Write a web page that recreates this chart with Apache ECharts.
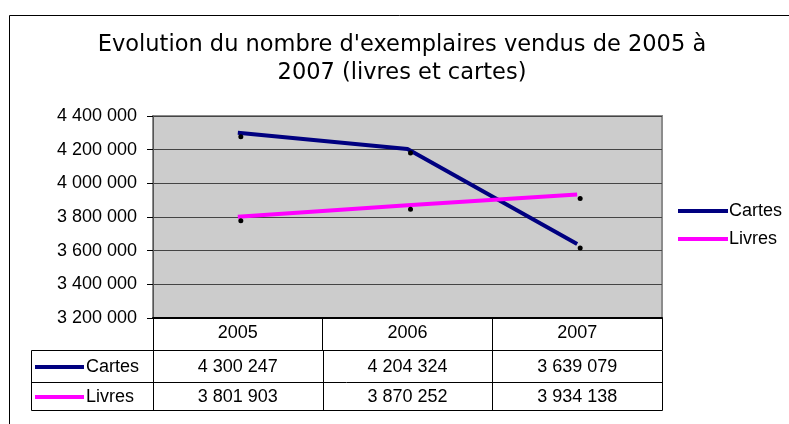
<!DOCTYPE html>
<html>
<head>
<meta charset="utf-8">
<script src="https://cdn.jsdelivr.net/npm/echarts@6/dist/echarts.min.js"></script>
<style>
  html, body { margin: 0; padding: 0; background: #fff; }
  #chart { width: 789px; height: 424px; }
</style>
</head>
<body>
<div id="chart"></div>
<script>
var years = ["2005", "2006", "2007"];
var cartes = [4300247, 4204324, 3639079];
var livres = [3801903, 3870252, 3934138];
var seriesNames = ["Cartes", "Livres"];
var seriesColors = ["#000080", "#ff00ff"];

var FONT = "Liberation Sans, Arial, sans-serif";
var TITLE_FONT = "DejaVu Sans, Verdana, sans-serif";

function fmt(n) {
  return String(n).replace(/\B(?=(\d{3})+(?!\d))/g, " ");
}

var chart = echarts.init(document.getElementById("chart"));

var option = {
  animation: false,
  textStyle: { fontFamily: FONT, color: "#000" },
  title: {
    text: "Evolution du nombre d'exemplaires vendus de 2005 à\n2007 (livres et cartes)",
    left: 402,
    textAlign: "center",
    top: 31,
    padding: 0,
    textStyle: { fontFamily: TITLE_FONT, fontSize: 22.5, fontWeight: "normal", lineHeight: 28, color: "#000" }
  },
  legend: {
    orient: "vertical",
    left: 678,
    top: 202,
    padding: 0,
    itemWidth: 50,
    itemHeight: 4,
    itemGap: 10,
    textStyle: { fontFamily: FONT, fontSize: 18, color: "#000", padding: [0, 0, 0, -4] },
    data: seriesNames.map(function (n, i) {
      return { name: n, icon: "rect", itemStyle: { color: seriesColors[i] } };
    })
  },
  grid: {
    left: 153, top: 116, right: 127, bottom: 106,
    show: true, backgroundColor: "#cccccc", borderColor: "#8c8c8c", borderWidth: 2
  },
  xAxis: {
    type: "category",
    data: years,
    boundaryGap: true,
    axisLine: { lineStyle: { color: "#000", width: 2 } },
    axisTick: { show: true, length: 32, interval: 0, lineStyle: { color: "#000", width: 1 } },
    axisLabel: { fontFamily: FONT, fontSize: 18, color: "#000", margin: 6 },
    splitLine: { show: false }
  },
  yAxis: {
    type: "value",
    min: 3200000,
    max: 4400000,
    interval: 200000,
    axisLine: { show: true, lineStyle: { color: "#555", width: 1 } },
    axisTick: { show: true, length: 6, lineStyle: { color: "#000" } },
    axisLabel: { fontFamily: FONT, fontSize: 18, color: "#000", margin: 16, formatter: fmt },
    splitLine: { lineStyle: { color: "#444", width: 1 } }
  },
  series: [
    {
      name: seriesNames[0], type: "line", data: cartes,
      symbol: "circle", symbolSize: 5, symbolOffset: [3, 4],
      itemStyle: { color: "#000" },
      lineStyle: { color: seriesColors[0], width: 4 }
    },
    {
      name: seriesNames[1], type: "line", data: livres,
      symbol: "circle", symbolSize: 5, symbolOffset: [3, 4],
      itemStyle: { color: "#000" },
      lineStyle: { color: seriesColors[1], width: 4 }
    }
  ]
};
chart.setOption(option);

// data table under the x axis
var tableLeft = 31, plotLeft = 153, plotRight = 662;
var rowTops = [350, 382, 410];
var rows = [cartes, livres];
var g = [];
// outer chart frame
g.push({
  type: "rect", silent: true,
  shape: { x: 9.5, y: 15.5, width: 800, height: 420 },
  style: { fill: null, stroke: "#000", lineWidth: 1 }, z: -1
});
g.push({
  type: "rect", silent: true,
  shape: { x: tableLeft + 0.5, y: rowTops[0] + 0.5, width: plotRight - tableLeft, height: rowTops[2] - rowTops[0] },
  style: { fill: null, stroke: "#000", lineWidth: 1 }
});
g.push({
  type: "line", silent: true,
  shape: { x1: tableLeft, y1: rowTops[1] + 0.5, x2: plotRight, y2: rowTops[1] + 0.5 },
  style: { stroke: "#000", lineWidth: 1 }
});
var bounds = [plotLeft];
for (var i = 1; i < years.length; i++) {
  var a = chart.convertToPixel({ xAxisIndex: 0 }, i - 1);
  var b = chart.convertToPixel({ xAxisIndex: 0 }, i);
  bounds.push((a + b) / 2);
}
bounds.forEach(function (x) {
  g.push({
    type: "line", silent: true,
    shape: { x1: Math.round(x) + 0.5, y1: rowTops[0], x2: Math.round(x) + 0.5, y2: rowTops[2] },
    style: { stroke: "#000", lineWidth: 1 }
  });
});
rows.forEach(function (vals, r) {
  var cy = (rowTops[r] + rowTops[r + 1]) / 2 + 1;
  g.push({
    type: "line", silent: true,
    shape: { x1: 35, y1: cy, x2: 84, y2: cy },
    style: { stroke: seriesColors[r], lineWidth: 4 }
  });
  g.push({
    type: "text", silent: true, x: 86, y: cy,
    style: { text: seriesNames[r], font: "18px " + FONT, fill: "#000", textVerticalAlign: "middle" }
  });
  vals.forEach(function (v, c) {
    g.push({
      type: "text", silent: true,
      x: chart.convertToPixel({ xAxisIndex: 0 }, c), y: cy,
      style: { text: fmt(v), font: "18px " + FONT, fill: "#000", textAlign: "center", textVerticalAlign: "middle" }
    });
  });
});
chart.setOption({ graphic: g });
</script>
</body>
</html>
